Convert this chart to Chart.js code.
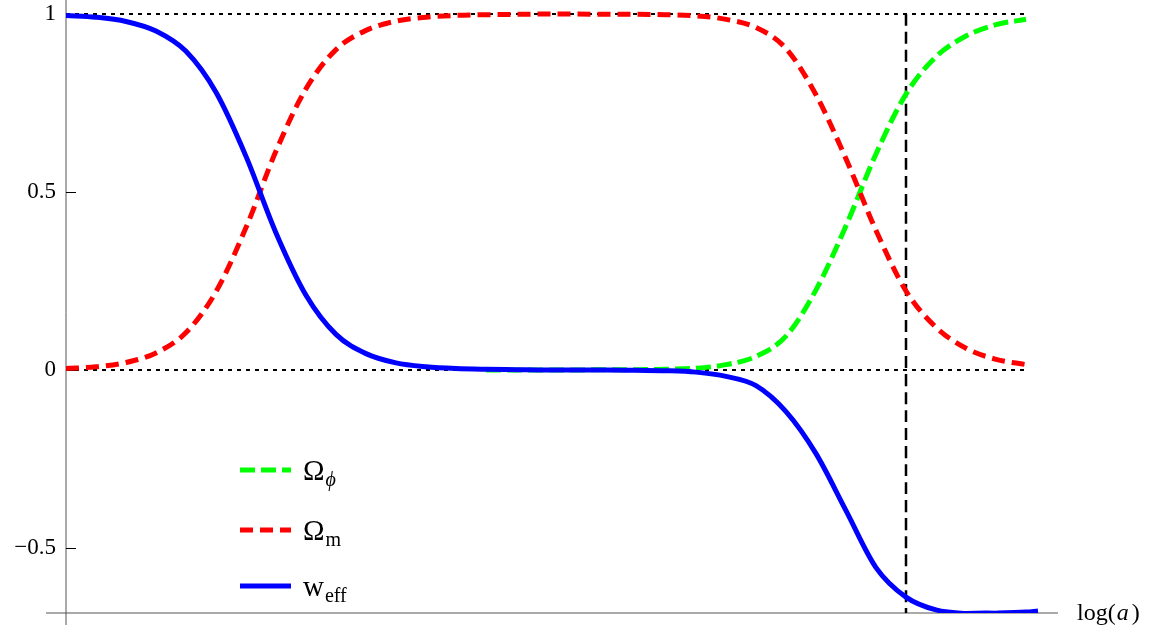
<!DOCTYPE html>
<html>
<head>
<meta charset="utf-8">
<script src="https://cdn.jsdelivr.net/npm/chart.js@4.4.1/dist/chart.umd.min.js"></script>
<style>
html, body { margin: 0; padding: 0; background: #fff; }
canvas { display: block; }
</style>
</head>
<body>
<canvas id="chart" width="1150" height="632"></canvas>
<script>
// log(a) grid, today is at log(a) = 0
var logA = [-14, -13.5, -13, -12.5, -12, -11.5, -11, -10.5, -10, -9.5, -9, -8.5,
            -8, -7.5, -7, -6.5, -6, -5.5, -5, -4.5, -4, -3.5, -3, -2.5, -2, -1.5,
            -1, -0.5, 0, 0.5, 1, 1.5, 2, 2.2];

var omegaPhi = [null, null, null, null, null, null, null, null, null, null, null, null,
                null, null, 0, 0, 0, 0, 0.001, 0.001, 0.002, 0.005, 0.015, 0.038, 0.095, 0.225,
                0.405, 0.607, 0.775, 0.88, 0.938, 0.97, 0.985, null];

var omegaM = [0.004, 0.009, 0.021, 0.048, 0.105, 0.22, 0.40, 0.615, 0.79, 0.90, 0.954, 0.98,
              0.991, 0.996, 0.998, 0.999, 1.0, 1.0, 0.999, 0.999, 0.998, 0.995, 0.985, 0.962, 0.903, 0.773,
              0.593, 0.392, 0.222, 0.12, 0.061, 0.03, 0.015, null];

var wEff = [0.996, 0.991, 0.979, 0.952, 0.895, 0.78, 0.60, 0.385, 0.21, 0.10, 0.046, 0.02,
            0.009, 0.004, 0.002, 0.001, 0, 0, 0, -0.001, -0.002, -0.006, -0.018, -0.044, -0.117, -0.235,
            -0.395, -0.555, -0.638, -0.674, -0.684, -0.683, -0.68, -0.677];

var seriesNames = ['Ω', 'Ω', 'w'];
var seriesSubs  = ['ϕ', 'm', 'eff'];

var yTicks = [-0.5, 0, 0.5, 1];
var yMin = -0.6826, yMax = 1.0393;
var xMin = -14, xMax = 2.5333;
var refEnd = 2.03;   // dotted lines at 0 and 1 stop here
var today = 0;       // vertical dashed line

function pts(arr) {
    return logA.map(function (x, i) { return { x: x, y: arr[i] }; });
}

var serif = '"Liberation Serif", "Times New Roman", serif';

var axesPlugin = {
    id: 'axes',
    beforeDatasetsDraw: function (chart) {
        var ctx = chart.ctx;
        var xs = chart.scales.x, ys = chart.scales.y;
        var x0 = xs.getPixelForValue(xMin);
        var yb = ys.getPixelForValue(yMin);
        ctx.save();
        ctx.strokeStyle = '#555';
        ctx.lineWidth = 1;
        ctx.beginPath();
        ctx.moveTo(x0, 0);
        ctx.lineTo(x0, yb + 12);
        ctx.moveTo(x0 - 20, yb);
        ctx.lineTo(xs.getPixelForValue(xMax), yb);
        ctx.stroke();
        ctx.strokeStyle = '#000';
        ctx.beginPath();
        yTicks.forEach(function (v) {
            var py = Math.round(ys.getPixelForValue(v)) + 0.5;
            ctx.moveTo(x0, py);
            ctx.lineTo(x0 + 10, py);
        });
        ctx.stroke();
        ctx.restore();
    },
    afterDraw: function (chart) {
        var ctx = chart.ctx;
        ctx.save();
        ctx.fillStyle = '#000';
        ctx.textBaseline = 'alphabetic';
        // axis label
        ctx.font = '24px ' + serif;
        var lx = 1077, ly = 620;
        ctx.fillText('log(', lx, ly);
        lx += ctx.measureText('log(').width + 1;
        ctx.font = 'italic 24px ' + serif;
        ctx.fillText('a', lx, ly);
        lx += ctx.measureText('a').width + 3;
        ctx.font = '24px ' + serif;
        ctx.fillText(')', lx, ly);
        // legend
        var rows = [470, 530, 586];
        for (var i = 0; i < 3; i++) {
            var ds = chart.data.datasets[i];
            var y = rows[i];
            ctx.strokeStyle = ds.borderColor;
            ctx.lineWidth = ds.borderWidth;
            ctx.setLineDash(ds.borderDash || []);
            ctx.beginPath();
            ctx.moveTo(240, y);
            ctx.lineTo(291, y);
            ctx.stroke();
            ctx.setLineDash([]);
            ctx.font = '29px ' + serif;
            ctx.fillText(seriesNames[i], 303, y + 10);
            var sx = 303 + ctx.measureText(seriesNames[i]).width + 1;
            ctx.font = (i === 0 ? 'italic ' : '') + '20px ' + serif;
            ctx.fillText(seriesSubs[i], sx, y + 16);
        }
        ctx.restore();
    }
};

var config = {
    type: 'line',
    data: {
        datasets: [{
            label: 'Omega_phi',
            data: pts(omegaPhi),
            borderColor: '#00ff00',
            borderWidth: 5,
            borderDash: [15, 6],
            order: 2
        }, {
            label: 'Omega_m',
            data: pts(omegaM),
            borderColor: '#ff0000',
            borderWidth: 5,
            borderDash: [13, 7],
            order: 1
        }, {
            label: 'w_eff',
            data: pts(wEff),
            borderColor: '#0000ff',
            borderWidth: 5,
            order: 0
        }, {
            label: 'one',
            data: [{ x: xMin, y: 1 }, { x: refEnd, y: 1 }],
            borderColor: '#000',
            borderWidth: 2,
            borderDash: [4, 5],
            order: 5
        }, {
            label: 'zero',
            data: [{ x: xMin, y: 0 }, { x: refEnd, y: 0 }],
            borderColor: '#000',
            borderWidth: 2,
            borderDash: [4, 5],
            order: 5
        }, {
            label: 'today',
            data: [{ x: today, y: 1 }, { x: today, y: yMin }],
            borderColor: '#000',
            borderWidth: 2.5,
            borderDash: [12, 6],
            order: 4
        }]
    },
    options: {
        responsive: false,
        animation: false,
        layout: { padding: { left: 0, top: 0, right: 92, bottom: 19 } },
        elements: {
            point: { radius: 0, hoverRadius: 0 },
            line: { cubicInterpolationMode: 'monotone', fill: false, borderCapStyle: 'butt' }
        },
        plugins: { legend: { display: false }, tooltip: { enabled: false } },
        scales: {
            x: {
                type: 'linear',
                min: xMin,
                max: xMax,
                display: false
            },
            y: {
                type: 'linear',
                min: yMin,
                max: yMax,
                afterFit: function (s) {
                    s.width = 66;
                    s.paddingTop = 0;
                    s.paddingBottom = 0;
                },
                afterBuildTicks: function (s) {
                    s.ticks = yTicks.map(function (v) { return { value: v }; });
                },
                grid: { display: false, drawTicks: false },
                border: { display: false },
                ticks: {
                    padding: 10,
                    color: '#000',
                    font: { family: serif, size: 23 },
                    callback: function (v) {
                        return v < 0 ? '\u2212' + String(-v) : String(v);
                    }
                }
            }
        }
    },
    plugins: [axesPlugin]
};

var chart = new Chart(document.getElementById('chart').getContext('2d'), config);
</script>
</body>
</html>
